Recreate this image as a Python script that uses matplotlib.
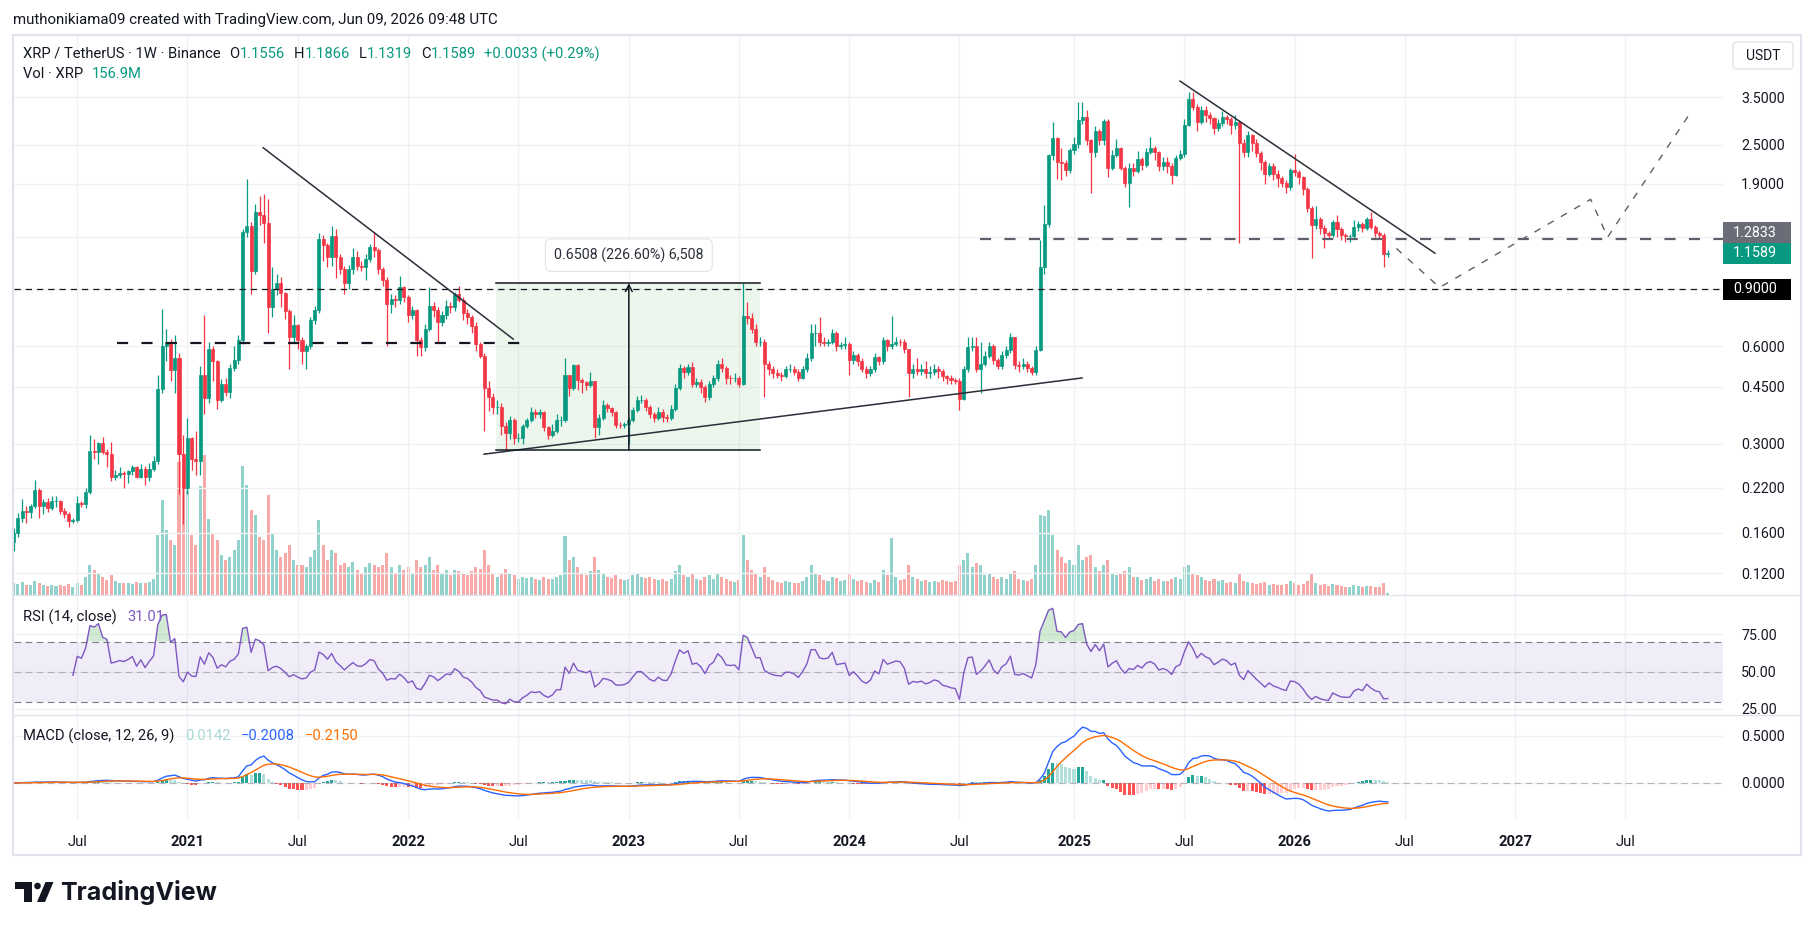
import datetime as dt
import numpy as np
import pandas as pd
import matplotlib
matplotlib.use('Agg')
import matplotlib.pyplot as plt
import matplotlib.dates as mdates
from matplotlib.patches import Rectangle, FancyBboxPatch, Polygon, Circle
from matplotlib.ticker import FixedLocator, FixedFormatter, NullLocator

W, H = 1814, 930
plt.rcParams['font.family'] = ['Roboto', 'DejaVu Sans']

# ---- weekly XRP/USDT candles (first bar: week of 2020-03-23)
first_week = dt.date(2020, 3, 23)
first_open = 0.150
closes = [
    0.160, 0.177, 0.187, 0.185, 0.193, 0.216, 0.193, 0.199, 0.191, 0.200,
    0.200, 0.187, 0.183, 0.174, 0.175, 0.198, 0.196, 0.213, 0.285, 0.283,
    0.302, 0.283, 0.280, 0.237, 0.240, 0.244, 0.242, 0.247, 0.254, 0.237,
    0.252, 0.237, 0.252, 0.266, 0.443, 0.600, 0.620, 0.507, 0.550, 0.280,
    0.220, 0.313, 0.270, 0.265, 0.490, 0.415, 0.590, 0.540, 0.410, 0.460,
    0.435, 0.514, 0.544, 0.627, 1.350, 1.410, 1.020, 1.550, 1.520, 1.440,
    0.790, 0.900, 0.940, 0.876, 0.770, 0.640, 0.695, 0.627, 0.578, 0.600,
    0.722, 0.776, 1.280, 1.230, 1.130, 1.310, 1.130, 1.040, 0.940, 1.040,
    1.130, 1.060, 1.050, 1.110, 1.210, 1.190, 1.040, 0.960, 0.810, 0.840,
    0.830, 0.910, 0.850, 0.750, 0.776, 0.627, 0.597, 0.680, 0.800, 0.776,
    0.710, 0.750, 0.800, 0.790, 0.870, 0.835, 0.760, 0.740, 0.690, 0.610,
    0.560, 0.446, 0.418, 0.390, 0.390, 0.340, 0.324, 0.356, 0.314, 0.314,
    0.340, 0.356, 0.377, 0.370, 0.375, 0.338, 0.319, 0.330, 0.356, 0.356,
    0.490, 0.446, 0.526, 0.472, 0.465, 0.455, 0.468, 0.338, 0.360, 0.395,
    0.387, 0.375, 0.343, 0.342, 0.345, 0.356, 0.382, 0.410, 0.410, 0.390,
    0.370, 0.360, 0.377, 0.362, 0.360, 0.385, 0.445, 0.514, 0.500, 0.517,
    0.460, 0.467, 0.450, 0.418, 0.460, 0.478, 0.530, 0.513, 0.480, 0.478,
    0.480, 0.460, 0.744, 0.733, 0.678, 0.616, 0.617, 0.530, 0.510, 0.496,
    0.490, 0.487, 0.510, 0.510, 0.500, 0.480, 0.510, 0.552, 0.660, 0.660,
    0.620, 0.615, 0.620, 0.660, 0.600, 0.605, 0.610, 0.544, 0.565, 0.540,
    0.510, 0.495, 0.510, 0.555, 0.540, 0.625, 0.600, 0.610, 0.620, 0.617,
    0.587, 0.496, 0.510, 0.505, 0.510, 0.495, 0.500, 0.510, 0.505, 0.485,
    0.480, 0.473, 0.470, 0.414, 0.510, 0.597, 0.600, 0.510, 0.530, 0.560,
    0.600, 0.545, 0.520, 0.565, 0.584, 0.640, 0.525, 0.520, 0.530, 0.515,
    0.500, 0.585, 1.050, 1.430, 2.320, 2.620, 2.210, 2.200, 2.090, 2.410,
    2.510, 2.980, 3.050, 2.580, 2.380, 2.760, 2.580, 2.960, 2.130, 2.320,
    2.450, 2.130, 1.910, 2.130, 2.080, 2.270, 2.170, 2.380, 2.450, 2.370,
    2.160, 2.220, 2.160, 2.020, 2.280, 2.350, 2.870, 3.470, 3.270, 2.950,
    3.200, 3.080, 3.020, 2.810, 2.920, 3.050, 3.000, 2.870, 2.940, 2.540,
    2.380, 2.680, 2.530, 2.360, 2.210, 2.040, 2.160, 2.040, 1.980, 1.910,
    1.860, 2.090, 2.070, 1.990, 1.830, 1.600, 1.420, 1.480, 1.390, 1.340,
    1.320, 1.450, 1.380, 1.320, 1.310, 1.310, 1.400, 1.430, 1.390, 1.480,
    1.400, 1.340, 1.320, 1.1556, 1.1589,
]
highs = [
    0.165, 0.184, 0.203, 0.193, 0.196, 0.232, 0.220, 0.203, 0.205, 0.207,
    0.208, 0.202, 0.190, 0.185, 0.178, 0.207, 0.200, 0.220, 0.320, 0.310,
    0.305, 0.315, 0.290, 0.305, 0.250, 0.255, 0.248, 0.250, 0.258, 0.256,
    0.260, 0.256, 0.262, 0.275, 0.490, 0.780, 0.680, 0.630, 0.650, 0.570,
    0.320, 0.360, 0.315, 0.330, 0.520, 0.750, 0.620, 0.600, 0.545, 0.475,
    0.480, 0.530, 0.600, 0.650, 1.380, 1.970, 1.450, 1.650, 1.740, 1.760,
    1.700, 1.050, 1.000, 0.980, 0.880, 0.780, 0.750, 0.700, 0.640, 0.610,
    0.740, 0.800, 1.340, 1.320, 1.250, 1.410, 1.380, 1.150, 1.060, 1.070,
    1.200, 1.180, 1.100, 1.150, 1.240, 1.350, 1.200, 1.050, 0.980, 0.870,
    0.860, 0.990, 0.920, 0.860, 0.800, 0.780, 0.640, 0.700, 0.910, 0.820,
    0.790, 0.770, 0.830, 0.820, 0.880, 0.920, 0.850, 0.780, 0.750, 0.710,
    0.620, 0.570, 0.470, 0.430, 0.410, 0.400, 0.350, 0.365, 0.360, 0.325,
    0.345, 0.360, 0.390, 0.385, 0.385, 0.378, 0.340, 0.345, 0.370, 0.365,
    0.550, 0.490, 0.530, 0.530, 0.480, 0.470, 0.500, 0.470, 0.370, 0.410,
    0.400, 0.390, 0.380, 0.350, 0.350, 0.362, 0.390, 0.420, 0.425, 0.415,
    0.395, 0.375, 0.390, 0.385, 0.370, 0.395, 0.460, 0.530, 0.520, 0.530,
    0.535, 0.480, 0.475, 0.455, 0.470, 0.490, 0.545, 0.550, 0.520, 0.490,
    0.495, 0.485, 0.938, 0.820, 0.760, 0.700, 0.640, 0.630, 0.540, 0.520,
    0.510, 0.500, 0.520, 0.530, 0.520, 0.510, 0.520, 0.570, 0.700, 0.700,
    0.740, 0.640, 0.630, 0.680, 0.670, 0.620, 0.640, 0.620, 0.580, 0.570,
    0.550, 0.520, 0.520, 0.570, 0.560, 0.640, 0.630, 0.745, 0.640, 0.630,
    0.630, 0.590, 0.530, 0.550, 0.530, 0.540, 0.520, 0.530, 0.520, 0.510,
    0.490, 0.490, 0.480, 0.480, 0.520, 0.640, 0.640, 0.640, 0.620, 0.580,
    0.620, 0.610, 0.550, 0.580, 0.600, 0.660, 0.640, 0.540, 0.550, 0.540,
    0.520, 0.600, 1.270, 1.630, 2.340, 2.950, 2.650, 2.450, 2.250, 2.450,
    2.650, 3.380, 3.380, 3.200, 2.600, 2.850, 2.800, 3.000, 3.000, 2.420,
    2.600, 2.470, 2.150, 2.200, 2.200, 2.400, 2.300, 2.450, 2.650, 2.480,
    2.400, 2.300, 2.300, 2.200, 2.320, 2.420, 3.000, 3.650, 3.650, 3.350,
    3.300, 3.300, 3.150, 3.050, 3.000, 3.190, 3.100, 3.050, 3.100, 2.980,
    2.600, 2.750, 2.700, 2.600, 2.400, 2.250, 2.200, 2.200, 2.100, 2.000,
    1.950, 2.130, 2.350, 2.100, 2.000, 1.850, 1.620, 1.620, 1.500, 1.420,
    1.360, 1.470, 1.520, 1.400, 1.340, 1.330, 1.470, 1.460, 1.450, 1.500,
    1.550, 1.420, 1.360, 1.340, 1.1866,
]
lows = [
    0.140, 0.155, 0.172, 0.171, 0.178, 0.190, 0.178, 0.183, 0.185, 0.188,
    0.192, 0.182, 0.178, 0.166, 0.171, 0.173, 0.192, 0.190, 0.210, 0.270,
    0.260, 0.280, 0.255, 0.230, 0.232, 0.236, 0.220, 0.228, 0.240, 0.235,
    0.235, 0.225, 0.230, 0.248, 0.260, 0.430, 0.540, 0.470, 0.430, 0.210,
    0.170, 0.210, 0.250, 0.240, 0.240, 0.370, 0.400, 0.470, 0.385, 0.405,
    0.420, 0.415, 0.505, 0.530, 0.610, 1.300, 0.870, 1.000, 1.420, 1.250,
    0.660, 0.740, 0.860, 0.790, 0.730, 0.510, 0.620, 0.590, 0.530, 0.510,
    0.590, 0.700, 0.760, 1.100, 1.050, 1.060, 0.970, 1.000, 0.870, 0.900,
    1.000, 1.030, 1.020, 0.960, 1.090, 1.130, 1.000, 0.920, 0.600, 0.760,
    0.790, 0.810, 0.820, 0.710, 0.730, 0.560, 0.560, 0.580, 0.670, 0.740,
    0.620, 0.690, 0.730, 0.760, 0.770, 0.820, 0.720, 0.700, 0.660, 0.580,
    0.550, 0.330, 0.380, 0.370, 0.370, 0.320, 0.287, 0.310, 0.300, 0.305,
    0.300, 0.335, 0.350, 0.360, 0.360, 0.330, 0.310, 0.316, 0.325, 0.340,
    0.350, 0.420, 0.440, 0.440, 0.430, 0.440, 0.450, 0.313, 0.320, 0.355,
    0.375, 0.365, 0.335, 0.335, 0.335, 0.300, 0.350, 0.375, 0.400, 0.380,
    0.360, 0.350, 0.355, 0.350, 0.350, 0.355, 0.380, 0.440, 0.480, 0.490,
    0.450, 0.450, 0.430, 0.405, 0.410, 0.450, 0.470, 0.500, 0.460, 0.460,
    0.465, 0.450, 0.455, 0.700, 0.660, 0.600, 0.600, 0.418, 0.490, 0.480,
    0.480, 0.470, 0.480, 0.500, 0.490, 0.470, 0.475, 0.500, 0.540, 0.600,
    0.600, 0.600, 0.600, 0.610, 0.580, 0.590, 0.590, 0.490, 0.530, 0.520,
    0.500, 0.480, 0.485, 0.500, 0.525, 0.530, 0.580, 0.590, 0.600, 0.600,
    0.570, 0.418, 0.480, 0.490, 0.490, 0.480, 0.480, 0.490, 0.480, 0.470,
    0.460, 0.460, 0.460, 0.382, 0.410, 0.500, 0.580, 0.500, 0.430, 0.520,
    0.550, 0.530, 0.510, 0.510, 0.550, 0.570, 0.510, 0.500, 0.510, 0.500,
    0.490, 0.490, 0.580, 1.000, 1.400, 2.250, 1.960, 1.950, 2.000, 2.050,
    2.350, 2.450, 2.900, 2.500, 1.780, 2.300, 2.500, 2.500, 1.990, 2.100,
    2.300, 2.100, 1.850, 1.610, 2.000, 2.050, 2.100, 2.140, 2.350, 2.250,
    2.080, 2.100, 2.050, 1.900, 2.000, 2.250, 2.300, 2.850, 3.200, 2.750,
    2.900, 2.950, 2.900, 2.700, 2.750, 2.850, 2.900, 2.700, 2.800, 1.250,
    2.300, 2.300, 2.400, 2.300, 2.100, 1.900, 2.000, 1.950, 1.850, 1.850,
    1.780, 1.820, 2.000, 1.900, 1.750, 1.550, 1.120, 1.380, 1.330, 1.200,
    1.280, 1.300, 1.300, 1.270, 1.260, 1.260, 1.290, 1.360, 1.350, 1.370,
    1.380, 1.300, 1.280, 1.050, 1.1319,
]
# weekly volume, millions of XRP
volumes = [
    1200, 1100, 1300, 1000, 1000, 1400, 1200, 1000, 900, 1000,
    900, 1000, 900, 1100, 800, 1200, 1000, 1800, 3000, 2500,
    2200, 1800, 1500, 2000, 1400, 1200, 1200, 1200, 1100, 1300,
    1200, 1200, 1300, 1600, 6000, 9500, 6500, 5500, 5000, 13300,
    11800, 10400, 6000, 5000, 10900, 14000, 7600, 6200, 5500, 4000,
    3500, 3800, 4500, 5500, 12900, 11000, 8500, 8000, 5800, 5500,
    10000, 6200, 4500, 3800, 4200, 5000, 3500, 3000, 3000, 2800,
    3800, 4500, 7500, 5000, 3500, 4500, 4200, 3000, 3200, 2800,
    3300, 2500, 2200, 2800, 3200, 3000, 2800, 3000, 4200, 2800,
    2200, 3000, 2500, 2800, 2200, 3500, 2800, 3000, 3800, 2500,
    3000, 2200, 2500, 2000, 2500, 2400, 2200, 2000, 2400, 2800,
    2600, 4500, 3000, 2200, 1800, 2200, 2600, 2200, 2000, 1600,
    1800, 1700, 1800, 1600, 1500, 1800, 1600, 1600, 1800, 2000,
    5900, 3500, 3800, 2800, 2200, 2000, 2400, 3800, 2500, 2200,
    1800, 1700, 2000, 1600, 1500, 1600, 2000, 2200, 1800, 1700,
    1800, 1600, 1500, 1600, 1400, 1600, 2400, 3000, 2000, 1800,
    2200, 1600, 1500, 1800, 2000, 1600, 2200, 1800, 1600, 1400,
    1300, 1500, 6000, 3500, 2500, 2200, 1800, 2800, 1800, 1500,
    1300, 1200, 1400, 1300, 1200, 1200, 1400, 1800, 3000, 2200,
    2000, 1500, 1400, 1800, 1700, 1400, 1500, 2200, 1600, 1400,
    1500, 1300, 1200, 1500, 1300, 2500, 2000, 5700, 1800, 1500,
    1600, 3000, 1800, 1600, 1400, 1500, 1300, 1400, 1300, 1500,
    1400, 1300, 1400, 3000, 3500, 4200, 2800, 3200, 3000, 2000,
    2200, 1800, 1600, 1800, 1600, 2200, 2400, 1600, 1500, 1400,
    1600, 3000, 8000, 7900, 8500, 6000, 4500, 3800, 3200, 3500,
    3000, 5000, 3500, 3800, 4000, 2800, 2400, 3000, 3500, 2200,
    2000, 2200, 2400, 2800, 1800, 1800, 1500, 1600, 1800, 1400,
    1600, 1400, 1400, 1600, 1800, 1600, 2800, 3000, 2200, 2000,
    1800, 1500, 1400, 1600, 1400, 1500, 1200, 1300, 1200, 2200,
    1400, 1300, 1200, 1100, 1200, 1300, 1000, 1100, 1000, 1000,
    1100, 1400, 1200, 1000, 1100, 1400, 2200, 1200, 1000, 1100,
    900, 1100, 1000, 900, 800, 800, 1000, 900, 800, 900,
    900, 800, 800, 1200, 157,
]

tick_dates = ['2020-07-06', '2021-01-04', '2021-07-05', '2022-01-03', '2022-07-04',
              '2023-01-02', '2023-07-03', '2024-01-01', '2024-07-01', '2025-01-06',
              '2025-07-07', '2026-01-05', '2026-07-06', '2027-01-04', '2027-07-05']
tick_labels = ['Jul', '2021', 'Jul', '2022', 'Jul', '2023', 'Jul', '2024', 'Jul',
               '2025', 'Jul', '2026', 'Jul', '2027', 'Jul']
price_ticks = [0.12, 0.16, 0.22, 0.3, 0.45, 0.6, 0.9, 1.3, 1.9, 2.5, 3.5]

# chart drawings: (weeks after first bar, price)
downtrend_2021 = [(58.85, 2.45), (117.8, 0.631)]
support_2021 = [(24.4, 0.614), (120.6, 0.614)]
uptrend = [(110.9, 0.279), (251.9, 0.479)]
downtrend_2025 = [(275.0, 3.93), (335.1, 1.16)]
projection = [(326.0, 1.20), (336.2, 0.91), (371.8, 1.70), (375.8, 1.30), (395.6, 3.18)]
resistance = (227.8, 1.2833)
level_090 = 0.9
measure = dict(start=113.8, end=176.0, mid=145.05, low=0.2874, high=0.9382,
               text='0.6508 (226.60%) 6,508')

UP, DOWN = '#089981', '#F23645'
VOL_UP, VOL_DOWN = '#92D2CC', '#F7A9A7'
TXT = '#131722'
GRID = '#F0F1F4'

# ---- derived series
n = len(closes)
base = mdates.date2num(dt.datetime.combine(first_week, dt.time()))
def wk(w):
    return base + 7 * np.asarray(w, dtype=float)

x = wk(np.arange(n))
c = np.array(closes)
o = np.array([first_open] + closes[:-1])
hi = np.array(highs)
lo = np.array(lows)
up = c >= o

cs = pd.Series(c)
d = cs.diff()
gain = d.clip(lower=0).ewm(alpha=1 / 14, adjust=True, min_periods=14).mean()
loss = (-d.clip(upper=0)).ewm(alpha=1 / 14, adjust=True, min_periods=14).mean()
rsi = (100 - 100 / (1 + gain / loss)).to_numpy()
macd = (cs.ewm(span=12, adjust=False).mean() - cs.ewm(span=26, adjust=False).mean())
signal = macd.ewm(span=9, adjust=False).mean()
hist = (macd - signal).to_numpy()
macd = macd.to_numpy()
signal = signal.to_numpy()

# ---- figure and panes (pixel layout of the TradingView snapshot)
fig = plt.figure(figsize=(W / 100, H / 100), dpi=100, facecolor='white')
L, R = 14, 1723
def rect(top, bottom):
    return [L / W, 1 - bottom / H, (R - L) / W, (bottom - top) / H]

ax_vol = fig.add_axes(rect(35, 595))
ax = fig.add_axes(rect(35, 595), sharex=ax_vol)
ax_rsi = fig.add_axes(rect(595, 715), sharex=ax_vol)
ax_macd = fig.add_axes(rect(715, 820), sharex=ax_vol)
ax_vol.set_zorder(1)
ax.set_zorder(2)
ax.patch.set_visible(False)
ax_vol.axis('off')

ax_vol.set_xlim(wk(0.1), wk(403.0))
ax.set_yscale('log')
ax.set_ylim(0.1028, 5.45)
ax_vol.set_ylim(0, max(volumes) * 4.0)
ax_rsi.set_ylim(21, 101)
ax_macd.set_ylim(-0.394, 0.723)

tick_x = [mdates.date2num(dt.datetime.fromisoformat(t)) for t in tick_dates]
for a in (ax, ax_rsi, ax_macd):
    for s in a.spines.values():
        s.set_visible(False)
    a.yaxis.tick_right()
    a.tick_params(axis='both', length=0, labelsize=10.3, labelcolor=TXT)
    a.tick_params(axis='y', pad=13)
    a.grid(True, color=GRID, lw=1)
    a.set_axisbelow(True)
ax_macd.xaxis.set_major_locator(FixedLocator(tick_x))
ax_macd.xaxis.set_major_formatter(FixedFormatter(tick_labels))
ax.tick_params(axis='x', labelbottom=False)
ax_rsi.tick_params(axis='x', labelbottom=False)
ax_macd.tick_params(axis='x', pad=11, labelsize=10.6)
for lab in ax_macd.get_xticklabels():
    if lab.get_text().isdigit():
        lab.set_fontweight('bold')

ax.yaxis.set_major_locator(FixedLocator(price_ticks))
ax.yaxis.set_major_formatter(FixedFormatter(
    ['' if p in (0.9, 1.3) else f'{p:.4f}' for p in price_ticks]))
ax.yaxis.set_minor_locator(NullLocator())
ax_rsi.set_yticks([25, 50, 75], ['25.00', '50.00', '75.00'])
ax_macd.set_yticks([0.0, 0.5], ['0.0000', '0.5000'])

# ---- volume + candles
ax_vol.bar(x, volumes, width=5, color=np.where(up, VOL_UP, VOL_DOWN), lw=0)
col = np.where(up, UP, DOWN)
ax.vlines(x, lo, hi, colors=col, lw=0.9, zorder=3)
ax.bar(x, np.abs(c - o), bottom=np.minimum(o, c), width=5, color=col,
       edgecolor=col, lw=0.5, zorder=4)

# ---- drawings
def line(pts, **kw):
    w, p = zip(*pts)
    ax.plot(wk(w), p, **kw)

line(downtrend_2021, color='#2A2E39', lw=1.1, zorder=5)
line(downtrend_2025, color='#2A2E39', lw=1.1, zorder=5)
line(uptrend, color='#2A2E39', lw=1.1, zorder=5)
line(support_2021, color='#131722', lw=1.6, ls=(0, (5, 6)), zorder=5)
line(projection, color='#5D606B', lw=1.0, ls=(0, (5, 6)), zorder=5)
ax.axhline(level_090, color='#131722', lw=0.9, ls=(0, (5, 4)), zorder=5)
ax.plot([wk(resistance[0]), wk(403.0)], [resistance[1]] * 2, color='#5D606B',
        lw=1.6, ls=(0, (5, 6)), zorder=5)

m0, m1, mm = wk(measure['start']), wk(measure['end']), wk(measure['mid'])
ax.add_patch(Rectangle((m0, measure['low']), m1 - m0, measure['high'] - measure['low'],
                       fc='#4CAF50', alpha=0.1, lw=0, zorder=1))
for p in (measure['low'], measure['high']):
    ax.plot([m0, m1], [p, p], color='#131722', lw=1.1, zorder=5)
ax.annotate('', xy=(mm, measure['high']), xytext=(mm, measure['low']),
            arrowprops=dict(arrowstyle='->', color='#131722', lw=1.1,
                            mutation_scale=12, shrinkA=0, shrinkB=0), zorder=5)
ax.annotate(measure['text'], xy=(mm, measure['high']), xytext=(0, 28),
            textcoords='offset pixels', ha='center', va='center', fontsize=10.3,
            color='#2A2E39', zorder=6,
            bbox=dict(boxstyle='round,pad=0.6,rounding_size=0.4', fc='white',
                      ec='#E0E3EB', lw=0.8))

# ---- RSI pane
ax_rsi.axhspan(30, 70, color='#7E57C2', alpha=0.1, lw=0)
for lvl, al in ((70, 1.0), (50, 0.5), (30, 1.0)):
    ax_rsi.axhline(lvl, color='#787B86', alpha=al, lw=0.8, ls=(0, (6, 4)))
ok = ~np.isnan(rsi)
ax_rsi.fill_between(x[ok], 70, rsi[ok], where=rsi[ok] > 70, interpolate=True,
                    color='#4CAF50', alpha=0.25, lw=0)
ax_rsi.fill_between(x[ok], rsi[ok], 30, where=rsi[ok] < 30, interpolate=True,
                    color='#F23645', alpha=0.2, lw=0)
ax_rsi.plot(x, rsi, color='#7E57C2', lw=1.0)

# ---- MACD pane
prev = np.concatenate([[0.0], hist[:-1]])
hcol = np.where(hist >= 0, np.where(hist > prev, '#26A69A', '#B2DFDB'),
                np.where(hist < prev, '#FF5252', '#FFCDD2'))
ax_macd.axhline(0, color='#787B86', alpha=0.5, lw=0.8, ls=(0, (6, 4)))
ax_macd.bar(x, hist, width=5, color=hcol, lw=0)
ax_macd.plot(x, macd, color='#2962FF', lw=1.0)
ax_macd.plot(x, signal, color='#FF6D00', lw=1.0)

# ---- overlay in pixel coordinates: frame, legends, price boxes, logo
ov = fig.add_axes([0, 0, 1, 1], zorder=10)
ov.set_xlim(0, W)
ov.set_ylim(H, 0)
ov.axis('off')
ov.add_patch(Rectangle((13, 35), 1788, 820, fill=False, ec='#E0E3EB', lw=1.5))
for yy in (595, 715):
    ov.plot([13, 1801], [yy, yy], color='#E0E3EB', lw=1)

renderer = fig.canvas.get_renderer()
def seq(x0, y0, parts, size):
    xp = x0
    for s, color, gap in parts:
        tx = ov.text(xp, y0, s, color=color, fontsize=size, va='center', ha='left')
        xp += tx.get_window_extent(renderer).width + gap

seq(13, 20, [('muthonikiama09 created with TradingView.com, Jun 09, 2026 09:48 UTC', TXT, 0)], 10.8)
seq(23, 54, [('XRP / TetherUS · 1W · Binance', TXT, 9), ('O', TXT, 0), ('1.1556', UP, 9),
             ('H', TXT, 0), ('1.1866', UP, 9), ('L', TXT, 0), ('1.1319', UP, 9),
             ('C', TXT, 0), ('1.1589', UP, 9), ('+0.0033 (+0.29%)', UP, 0)], 10.6)
seq(23, 74, [('Vol · XRP', TXT, 9), ('156.9M', UP, 0)], 10.6)
seq(23, 617, [('RSI (14, close)', TXT, 11), ('31.01', '#7E57C2', 0)], 10.6)
seq(23, 736, [('MACD (close, 12, 26, 9)', TXT, 11), ('0.0142', '#A8D8D3', 10),
              ('\u22120.2008', '#2962FF', 10), ('\u22120.2150', '#FF6D00', 0)], 10.6)

ov.add_patch(FancyBboxPatch((1733, 42), 60, 27, boxstyle='round,pad=0,rounding_size=4',
                            fc='white', ec='#E0E3EB', lw=1))
ov.text(1763, 55.5, 'USDT', ha='center', va='center', fontsize=10, color=TXT)

def price_px(p):
    return H - ax.transData.transform((wk(0), p))[1]

y_last = price_px(closes[-1])
boxes = [(y_last - 10.5, '#089981', f'{closes[-1]:.4f}'),
         (y_last - 31, '#6A6D78', f'{resistance[1]:.4f}'),
         (price_px(level_090) - 10.5, '#000000', f'{level_090:.4f}')]
for top, fc, s in boxes:
    ov.add_patch(Rectangle((1723, top), 68, 21, fc=fc, lw=0))
    ov.text(1733, top + 10.5, s, color='white', fontsize=10.3, va='center', ha='left')

# TradingView logo
ov.add_patch(Polygon([(15, 882), (32, 882), (32, 902), (23.5, 902), (23.5, 888.5), (15, 888.5)],
                     closed=True, fc=TXT, lw=0))
ov.add_patch(Circle((37.5, 886), 3.3, fc=TXT, lw=0))
ov.add_patch(Polygon([(45.5, 882), (53.5, 882), (45, 902), (37, 902)], closed=True, fc=TXT, lw=0))
ov.text(60, 900, 'TradingView', fontsize=18, fontweight='bold', color=TXT,
        va='baseline', ha='left', family=['Inter', 'DejaVu Sans'])

fig.savefig('out.png', dpi=100, facecolor='white')
